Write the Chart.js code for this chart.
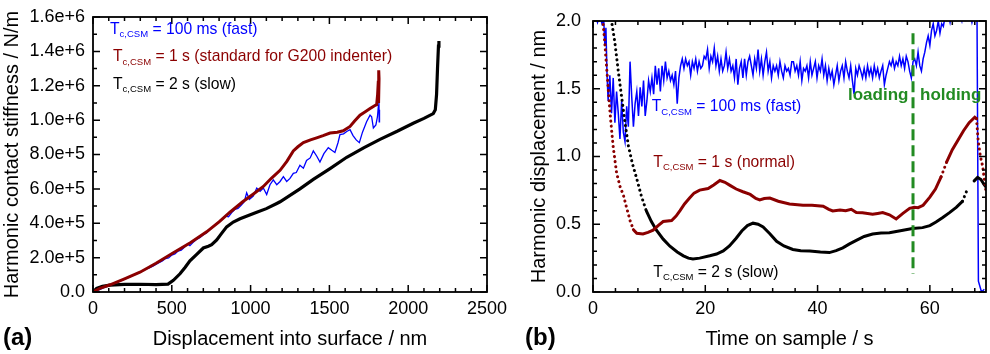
<!DOCTYPE html>
<html><head><meta charset="utf-8">
<script src="https://cdn.jsdelivr.net/npm/chart.js@4.4.0/dist/chart.umd.min.js"></script>
<style>
html,body{margin:0;padding:0;background:#fff;width:990px;height:354px;overflow:hidden}
#ca{position:absolute;left:0;top:0}
#cb{position:absolute;left:495px;top:0}
</style></head><body>
<canvas id="ca" width="520" height="354"></canvas>
<canvas id="cb" width="495" height="354"></canvas>
<script>
// ---------------- panel (a): stiffness vs displacement ----------------
const aBlueX = [0,40,80,120,160,200,240,280,320,350,380,410,440,460,480,500,520,540,560,580,600,615,640,660,680,700,720,740,760,780,800,820,840,860,880,900,920,940,960,975,992,1017,1039,1060,1081,1102,1123,1144,1166,1187,1208,1229,1250,1271,1290,1313,1335,1355,1378,1398,1420,1440,1465,1493,1515,1535,1555,1567,1590,1610,1631,1650,1670,1690,1710,1736,1758,1768,1779,1795,1805,1811,1814,1816,1818];
const aBlueY = [0,1.3e4,2.9e4,4.4e4,5.9e4,7.5e4,9.1e4,1.07e5,1.25e5,1.38e5,1.50e5,1.66e5,1.81e5,1.95e5,1.98e5,2.15e5,2.22e5,2.38e5,2.44e5,2.60e5,2.80e5,2.70e5,2.93e5,3.08e5,3.18e5,3.33e5,3.43e5,3.62e5,3.80e5,3.95e5,4.08e5,4.22e5,4.42e5,4.38e5,4.62e5,4.80e5,4.86e5,5.05e5,5.25e5,5.77e5,5.39e5,5.58e5,6.05e5,5.86e5,6.05e5,5.67e5,6.24e5,6.52e5,6.24e5,6.43e5,6.71e5,6.43e5,6.61e5,6.90e5,6.95e5,7.37e5,7.20e5,7.65e5,7.80e5,8.21e5,7.90e5,7.56e5,8.05e5,8.40e5,8.25e5,8.12e5,8.70e5,9.16e5,9.20e5,9.34e5,9.44e5,9.10e5,8.85e5,8.69e5,9.30e5,9.91e5,1.029e6,1.02e6,9.54e5,9.72e5,1.02e6,1.085e6,1.14e6,9.9e5,1.06e6];
const aRedX = [0,44,108,200,298,400,510,620,721,800,869,950,1020,1081,1130,1187,1230,1271,1300,1335,1380,1419,1460,1504,1550,1588,1631,1660,1694,1730,1758,1789,1800,1806,1810,1813,1815,1812];
const aRedY = [0,2.1e4,4.2e4,7.7e4,1.15e5,1.67e5,2.28e5,2.88e5,3.50e5,4.08e5,4.64e5,5.25e5,5.72e5,6.14e5,6.60e5,7.08e5,7.60e5,8.21e5,8.45e5,8.69e5,8.85e5,8.97e5,9.10e5,9.25e5,9.30e5,9.38e5,9.63e5,9.95e5,1.029e6,1.05e6,1.067e6,1.085e6,1.09e6,1.15e6,1.22e6,1.29e6,1.24e6,1.10e6];
const aBlackX = [0,23,60,108,200,300,400,476,510,552,584,615,658,700,732,753,785,816,848,890,933,1039,1100,1166,1187,1313,1398,1504,1610,1720,1821,1930,2032,2100,2159,2172,2180,2186,2192,2195];
const aBlackY = [0,2.1e4,3.3e4,4.0e4,4.4e4,4.5e4,4.3e4,4.6e4,6.8e4,1.06e5,1.43e5,1.81e5,2.19e5,2.56e5,2.66e5,2.75e5,3.03e5,3.41e5,3.79e5,4.07e5,4.26e5,4.64e5,4.85e5,5.15e5,5.25e5,6.00e5,6.55e5,7.18e5,7.84e5,8.40e5,8.88e5,9.35e5,9.82e5,1.01e6,1.038e6,1.06e6,1.15e6,1.30e6,1.43e6,1.46e6];

// ---------------- panel (b): harmonic displacement vs time ----------------
const bBlueT = [0.4,0.8,1.2,1.6,1.9,2.1,2.3,2.5,
2.7,3,3.3,3.6,3.9,4.2,4.5,4.8,5.1,5.4,5.7,6,6.3,6.6,6.9,7.2,7.5,7.8,8.1,8.4,8.7,9,9.3,9.6,9.9,10.2,10.5,10.8,11.1,11.4,11.7,12,12.3,12.6,12.9,13.2,13.5,13.8,14.1,14.4,14.7,15,15.3,15.6,15.9,16.2,16.5,16.8,17.1,17.4,17.7,18,18.3,18.6,18.9,19.2,19.5,19.8,20.1,20.4,20.7,21,21.3,21.6,21.9,22.2,22.5,22.8,23.1,23.4,23.7,24,24.3,24.6,24.9,25.2,25.5,25.8,26.1,26.4,26.7,27,27.3,27.6,27.9,28.2,28.5,28.8,29.1,29.4,29.7,30,30.3,30.6,30.9,31.2,31.5,31.8,32.1,32.4,32.7,33,33.3,33.6,33.9,34.2,34.5,34.8,35.1,35.4,
35.7,36,36.3,36.6,36.9,37.2,37.5,37.8,38.1,38.4,38.7,39,39.3,39.6,39.9,40.2,40.5,40.8,41.1,41.4,41.7,42,42.3,42.6,42.9,43.2,43.5,43.8,44.1,44.4,44.7,45,45.3,45.6,45.9,46.2,46.5,46.8,47.1,47.4,47.7,48,48.3,48.6,48.9,49.2,49.5,49.8,50.1,50.4,50.7,51,51.3,51.6,51.9,52.2,52.5,52.8,53.1,53.4,53.7,54,54.3,54.6,54.9,55.2,55.5,55.8,56.1,56.4,56.7,57,57.3,
57.6,57.9,58.2,58.5,58.8,59.1,59.4,59.7,60,60.3,60.6,60.9,61.2,61.5,61.8,62.1,62.4,62.7,
63,63.3,63.6,63.9,64.2,64.5,64.8,65.1,65.4,65.7,66,66.3,66.6,66.9,67.2,67.5,67.8,68.1,68.4,
68.65,69.2,69.7];
const bBlueD = [2.05,1.99,2.04,1.98,2.02,1.83,1.95,1.60,
1.41,1.60,1.32,1.58,1.25,1.48,1.32,1.13,1.41,1.18,
1.11,1.37,1.22,1.70,1.44,1.22,1.39,1.48,1.30,1.51,
1.37,1.56,1.30,1.41,1.56,1.48,1.58,1.46,1.67,1.53,
1.65,1.48,1.67,1.56,1.70,1.58,1.63,1.56,1.60,1.53,
1.63,1.39,1.58,1.67,1.72,1.65,1.72,1.67,1.70,1.60,
1.70,1.65,1.72,1.63,1.70,1.65,1.67,1.74,1.72,1.79,
1.65,1.74,1.70,1.80,1.67,1.74,1.63,1.72,1.63,1.67,
1.77,1.65,1.72,1.63,1.67,1.58,1.72,1.53,1.65,1.70,
1.58,1.72,1.60,1.70,1.74,1.67,1.60,1.72,1.65,1.79,
1.63,1.72,1.60,1.70,1.77,1.63,1.70,1.58,1.67,1.63,
1.67,1.60,1.70,1.63,1.58,1.67,1.63,1.65,1.60,1.70,
1.70,1.63,1.67,1.60,1.70,1.56,1.65,1.63,1.67,1.58,
1.70,1.60,1.65,1.70,1.58,1.67,1.63,1.72,1.60,1.67,
1.56,1.65,1.58,1.63,1.53,1.60,1.67,1.56,1.63,1.67,
1.58,1.70,1.63,1.58,1.67,1.56,1.46,1.65,1.60,1.67,
1.63,1.58,1.65,1.58,1.67,1.60,1.65,1.58,1.67,1.60,
1.65,1.58,1.63,1.67,1.53,1.60,1.65,1.70,1.67,1.72,
1.65,1.70,1.67,1.74,1.67,1.72,1.65,1.74,1.70,1.63,
1.58,1.70,1.72,
1.67,1.77,1.67,1.63,1.72,1.77,1.84,1.89,1.82,1.93,1.98,1.89,1.93,2.00,1.91,1.98,1.96,2.03,
2.01,2.05,1.99,2.06,2.02,2.08,2.03,2.10,2.04,2.00,2.07,2.02,2.09,2.03,2.05,1.99,2.04,2.06,2.02,
0.08,0.0,0.02];
const bRedT = [1.5,1.8,2.1,2.4,2.7,3.0,3.3,3.6,4.2,4.8,5.4,6.0,6.6,7.2,7.8,8.9,9.8,10.7,11.6,12.5,14.0,14.8,15.5,16.3,17.2,18.0,19.0,20.5,21.5,22.6,23.5,24.4,25.5,26.7,28.0,29.0,29.7,30.5,31.5,33.0,35.0,37.4,39.0,41.0,42.0,42.7,44.0,45.0,46.0,46.9,48.0,49.8,50.7,51.6,52.8,54.0,55.2,56.4,57.2,57.9,58.8,60.0,61.0,62.0,63.0,64.0,65.0,66.0,67.0,68.0,68.3,68.6,69.0,69.4,69.8,70.0];
const bRedD = [2.2,1.98,1.84,1.67,1.51,1.34,1.20,1.07,0.88,0.78,0.716,0.62,0.527,0.46,0.433,0.428,0.44,0.456,0.49,0.52,0.527,0.56,0.60,0.65,0.693,0.73,0.752,0.764,0.79,0.823,0.81,0.787,0.76,0.74,0.72,0.69,0.68,0.69,0.693,0.67,0.65,0.64,0.64,0.633,0.61,0.598,0.605,0.60,0.61,0.586,0.585,0.574,0.58,0.586,0.57,0.539,0.58,0.617,0.625,0.622,0.64,0.70,0.76,0.85,0.96,1.05,1.12,1.19,1.25,1.29,1.28,1.12,1.0,0.93,0.80,0.74];
const bBlackT = [3.0,3.3,3.9,4.5,5.1,5.7,6.3,7.0,7.8,8.6,9.5,10.4,11.3,12.5,13.7,15.0,16.1,17.0,17.8,19.0,20.8,22.0,23.2,24.3,25.5,26.5,27.5,28.5,29.4,30.3,31.5,32.7,34.0,35.6,37.0,38.6,40.5,42.1,43.3,44.5,45.7,46.9,48.3,49.8,51.3,52.8,54.5,56.9,58.7,60.0,61.1,62.3,63.5,64.7,65.8,66.7,67.3,67.9,68.5,69.1,69.7,70.0];
const bBlackD = [2.2,2.0,1.84,1.63,1.44,1.25,1.08,0.95,0.835,0.71,0.598,0.52,0.456,0.39,0.338,0.295,0.267,0.25,0.243,0.25,0.267,0.28,0.303,0.34,0.397,0.45,0.49,0.508,0.50,0.48,0.43,0.374,0.34,0.314,0.305,0.303,0.295,0.291,0.305,0.326,0.355,0.381,0.41,0.428,0.435,0.437,0.45,0.468,0.475,0.49,0.516,0.55,0.586,0.625,0.669,0.76,null,0.82,0.846,0.83,0.79,0.775];
const bMarkT = [57,57];
const bMarkD = [1.91,0.135];

// ---------------- helpers ----------------
const FONT = "'Liberation Sans', Arial, sans-serif";
Chart.defaults.font.family = FONT;
Chart.defaults.color = '#000';
const pts = (xs, ys) => xs.map((x, i) => ({x, y: ys[i]}));
const BLUE = '#0000ff', RED = '#8b0000', BLACK = '#000000', GREEN = '#228b22';

const frame = {
  id: 'frame',
  afterDatasetsDraw(chart, args, o) {
    const {ctx, chartArea: a} = chart;
    const xs = chart.scales.x, ys = chart.scales.y;
    ctx.save();
    ctx.strokeStyle = '#000';
    ctx.lineWidth = 1.5;
    ctx.beginPath();
    const isMajor = (v, m) => Math.abs(v / m - Math.round(v / m)) < 1e-6;
    const nx = Math.floor((xs.max - xs.min) / o.xMinor + 1e-6);
    for (let i = 0; i <= nx; i++) {
      const v = xs.min + i * o.xMinor, p = xs.getPixelForValue(v);
      const L = isMajor(v, o.xMajor) ? 7 : 4;
      ctx.moveTo(p, a.bottom); ctx.lineTo(p, a.bottom - L);
      ctx.moveTo(p, a.top); ctx.lineTo(p, a.top + L);
    }
    const ny = Math.floor((ys.max - ys.min) / o.yMinor + 1e-6);
    for (let i = 0; i <= ny; i++) {
      const v = ys.min + i * o.yMinor, p = ys.getPixelForValue(v);
      const L = isMajor(v, o.yMajor) ? 7 : 4;
      ctx.moveTo(a.left, p); ctx.lineTo(a.left + L, p);
      ctx.moveTo(a.right, p); ctx.lineTo(a.right - L, p);
    }
    ctx.stroke();
    ctx.lineWidth = 1.8;
    ctx.strokeRect(a.left, a.top, a.right - a.left, a.bottom - a.top);
    ctx.restore();
  }
};

const notes = {
  id: 'notes',
  afterDraw(chart, args, o) {
    const ctx = chart.ctx;
    ctx.save();
    ctx.textBaseline = 'alphabetic';
    ctx.textAlign = 'left';
    for (const it of o.items) {
      let x = it.x;
      ctx.fillStyle = it.color;
      for (const p of it.parts) {
        ctx.font = (p.bold ? 'bold ' : '') + p.size + 'px ' + FONT;
        ctx.fillText(p.text, x, it.y + (p.dy || 0));
        x += ctx.measureText(p.text).width;
      }
    }
    ctx.restore();
  }
};

const tLabel = (x, y, color, sub, rest) => ({x, y, color, parts: [
  {text: 'T', size: 15.7},
  {text: sub, size: 9.5, dy: 3.5},
  {text: rest, size: 15.7}
]});

const tickFont = {size: 18, lineHeight: 1};
const titleFont = {size: 20, lineHeight: 1.2};

// ---------------- chart (a) ----------------
new Chart(document.getElementById('ca'), {
  type: 'line',
  data: {datasets: [
    {data: pts(aRedX, aRedY), borderColor: RED, borderWidth: 3, pointRadius: 0, order: 1},
    {data: pts(aBlueX, aBlueY), borderColor: BLUE, borderWidth: 1.3, pointRadius: 0, order: 2},
    {data: pts(aBlackX, aBlackY), borderColor: BLACK, borderWidth: 3.2, pointRadius: 0, order: 3}
  ]},
  options: {
    responsive: false, animation: false,
    layout: {padding: {left: 0, top: 9, right: 33, bottom: 0}},
    plugins: {
      legend: {display: false}, tooltip: {enabled: false},
      frame: {xMinor: 100, xMajor: 500, yMinor: 1e5, yMajor: 2e5},
      notes: {items: [
        tLabel(110, 33.5, BLUE, 'c,CSM', ' = 100 ms (fast)'),
        tLabel(113, 61, RED, 'c,CSM', ' = 1 s (standard for G200 indenter)'),
        tLabel(113, 88.5, BLACK, 'c,CSM', ' = 2 s (slow)'),
        {x: 3, y: 345, color: '#000', parts: [{text: '(a)', size: 24, bold: true}]}
      ]}
    },
    scales: {
      x: {type: 'linear', min: 0, max: 2500,
        grid: {display: false, drawTicks: false}, border: {display: false},
        ticks: {stepSize: 500, padding: 8, font: tickFont, maxRotation: 0, autoSkip: false, callback: v => String(v)},
        title: {display: true, text: 'Displacement into surface / nm', font: titleFont, padding: {top: 0, bottom: 3}},
        afterFit(s) { s.height = 62; }},
      y: {type: 'linear', min: 0, max: 1.6e6,
        grid: {display: false, drawTicks: false}, border: {display: false},
        ticks: {stepSize: 2e5, padding: 8, font: tickFont, autoSkip: false,
          callback: v => Math.abs(v) < 1 ? '0.0' : Number(v).toExponential(1)},
        title: {display: true, text: 'Harmonic contact stiffness / N/m', font: titleFont, padding: {top: 0, bottom: 0}},
        afterFit(s) { s.width = 93; }}
    }
  },
  plugins: [frame, notes]
});

// ---------------- chart (b) ----------------
const dotted = ctx => {
  const dx = Math.abs(ctx.p1.x - ctx.p0.x), dy = Math.abs(ctx.p1.y - ctx.p0.y);
  return dy > 2.2 * dx ? [0.1, 5] : undefined;
};
new Chart(document.getElementById('cb'), {
  type: 'line',
  data: {datasets: [
    {data: pts(bMarkT, bMarkD), borderColor: GREEN, borderWidth: 3, borderDash: [11, 5], pointRadius: 0, order: 0},
    {data: pts(bRedT, bRedD), borderColor: RED, borderWidth: 3, borderCapStyle: 'round', pointRadius: 0, order: 1, segment: {borderDash: dotted}},
    {data: pts(bBlackT, bBlackD), borderColor: BLACK, borderWidth: 3, borderCapStyle: 'round', pointRadius: 0, order: 2, spanGaps: false, segment: {borderDash: dotted}},
    {data: pts(bBlueT, bBlueD), borderColor: BLUE, borderWidth: 1.5, pointRadius: 0, order: 3}
  ]},
  options: {
    responsive: false, animation: false,
    layout: {padding: {left: 0, top: 9, right: 4, bottom: 0}},
    plugins: {
      legend: {display: false}, tooltip: {enabled: false},
      frame: {xMinor: 4, xMajor: 20, yMinor: 0.1, yMajor: 0.5},
      notes: {items: [
        tLabel(156.7, 111, BLUE, 'C,CSM', ' = 100 ms (fast)'),
        tLabel(158.3, 166.5, RED, 'C,CSM', ' = 1 s (normal)'),
        tLabel(158.3, 276.5, BLACK, 'C,CSM', ' = 2 s (slow)'),
        {x: 353, y: 100, color: GREEN, parts: [{text: 'loading', size: 17, bold: true}]},
        {x: 425, y: 100, color: GREEN, parts: [{text: 'holding', size: 17, bold: true}]},
        {x: 30, y: 345, color: '#000', parts: [{text: '(b)', size: 24, bold: true}]}
      ]}
    },
    scales: {
      x: {type: 'linear', min: 0, max: 70,
        grid: {display: false, drawTicks: false}, border: {display: false},
        ticks: {stepSize: 20, padding: 8, font: tickFont, maxRotation: 0, autoSkip: false,
          callback: v => (v % 20 === 0 ? String(v) : null)},
        title: {display: true, text: 'Time on sample / s', font: titleFont, padding: {top: 0, bottom: 3}},
        afterFit(s) { s.height = 62; }},
      y: {type: 'linear', min: 0, max: 2,
        grid: {display: false, drawTicks: false}, border: {display: false},
        ticks: {stepSize: 0.5, padding: 12, font: tickFont, autoSkip: false, callback: v => Number(v).toFixed(1)},
        title: {display: true, text: 'Harmonic displacement / nm', font: titleFont, padding: {top: 32, bottom: 0}},
        afterFit(s) { s.width = 98; }}
    }
  },
  plugins: [frame, notes]
});
</script>
</body></html>
